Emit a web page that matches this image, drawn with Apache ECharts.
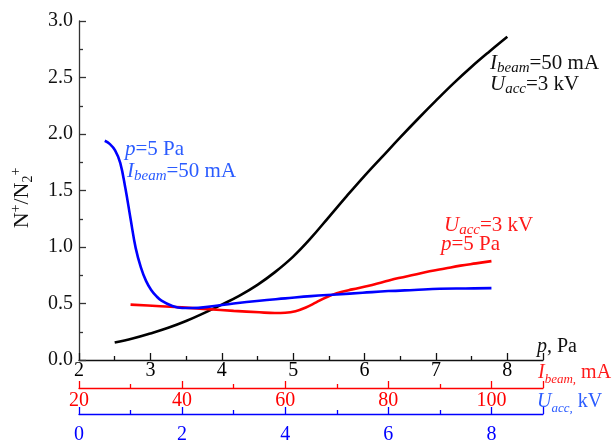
<!DOCTYPE html>
<html>
<head>
<meta charset="utf-8">
<script src="https://cdn.jsdelivr.net/npm/echarts@6/dist/echarts.min.js"></script>
<style>html,body{margin:0;padding:0;background:#fff}#c{width:616px;height:445px}</style>
</head>
<body>
<div id="c"></div>
<script>
// Black: ratio vs pressure p (Pa)
const blackP = [2.5,2.75,3.0,3.25,3.5,3.75,4.0,4.25,4.5,4.75,5.0,5.25,5.5,5.75,6.0,6.25,6.5,6.75,7.0,7.25,7.5,7.75,8.0];
const blackV = [0.155,0.19,0.235,0.285,0.345,0.415,0.49,0.57,0.665,0.78,0.915,1.08,1.265,1.45,1.63,1.80,1.97,2.135,2.295,2.45,2.595,2.73,2.86];
// Red: ratio vs beam current (mA)
const redI = [30,35,40,45,50,55,58,60,62,64,66,68,70,73,76,79,82,85,88,91,94,97,100];
const redV = [0.49,0.478,0.466,0.45,0.435,0.422,0.416,0.418,0.432,0.465,0.51,0.555,0.59,0.625,0.655,0.69,0.725,0.755,0.785,0.81,0.835,0.855,0.875];
// Blue: ratio vs accelerating voltage (kV)
const blueU = [0.5,0.6,0.7,0.8,0.9,1.0,1.1,1.2,1.3,1.4,1.5,1.6,1.8,2.0,2.2,2.5,3.0,3.5,4.0,4.5,5.0,5.5,6.0,6.5,7.0,7.5,8.0];
const blueV = [1.94,1.91,1.855,1.745,1.52,1.25,0.99,0.82,0.70,0.62,0.565,0.525,0.48,0.46,0.46,0.47,0.50,0.525,0.545,0.565,0.58,0.595,0.61,0.62,0.63,0.633,0.636];

const FONT = '"Liberation Serif","Times New Roman",serif';
const FS = 20;   // tick labels
const AF = 21;   // annotations
const SF = 15;   // subscripts
const BLUE = '#0000ff', RED = '#ff0000', BLACK = '#000000';
const BLUE_T = '#2b5cff', RED_T = '#ff1a1a';

const zip = (a, b) => a.map((x, i) => [x, b[i]]);

function xAx(min, max, interval, color, offset, margin, txtColor) {
  return {
    type: 'value', position: 'bottom', offset, min, max, interval,
    axisLine: { show: true, onZero: false, lineStyle: { color, width: 1.3 } },
    axisTick: { show: true, inside: true, length: 7, lineStyle: { color, width: 1.3 } },
    minorTick: { show: true, splitNumber: 2, length: 4, lineStyle: { color, width: 1.3 } },
    splitLine: { show: false },
    axisLabel: { color: txtColor, fontFamily: FONT, fontSize: FS, margin,
      formatter: v => (v > max - 0.001 && (max - min) % interval !== 0) ? '' : String(v) },
  };
}

function rich(color, main, sub) {
  return {
    n: { fontFamily: FONT, fontSize: main, fill: color, lineHeight: 26, verticalAlign: 'middle' },
    i: { fontFamily: FONT, fontSize: main, fontStyle: 'italic', fill: color, lineHeight: 26, verticalAlign: 'middle' },
    s: { fontFamily: FONT, fontSize: sub, fontStyle: 'italic', fill: color, lineHeight: 26, verticalAlign: 'bottom' },
    d: { fontFamily: FONT, fontSize: 14, fill: color, lineHeight: 26, verticalAlign: 'bottom' },
    sup: { fontFamily: FONT, fontSize: 14, fill: color, lineHeight: 26, verticalAlign: 'top' },
  };
}
function txt(x, y, text, color, rot, main, sub) {
  main = main || AF; sub = sub || SF;
  return {
    type: 'text', x, y, rotation: rot || 0,
    style: { text, rich: rich(color, main, sub), fill: color, font: main + 'px ' + FONT,
      textAlign: rot ? 'center' : 'left', textVerticalAlign: 'middle' },
    z: 100,
  };
}

const chart = echarts.init(document.getElementById('c'));
chart.setOption({
  animation: false,
  grid: { left: 79, right: 73, top: 21, bottom: 83.5, containLabel: false },
  xAxis: [
    xAx(2, 8.5, 1, '#111', 0, 1, BLACK),
    xAx(20, 110, 20, RED, 28, 3, RED),
    xAx(0, 9, 2, BLUE, 54, 11, BLUE),
  ],
  yAxis: {
    type: 'value', min: 0, max: 3, interval: 0.5,
    axisLine: { show: true, lineStyle: { color: '#333', width: 1.3 } },
    axisTick: { show: true, inside: true, length: 7, lineStyle: { color: '#333', width: 1.3 } },
    minorTick: { show: true, splitNumber: 2, length: 4, lineStyle: { color: '#333', width: 1.3 } },
    splitLine: { show: false },
    axisLabel: { color: '#111', fontFamily: FONT, fontSize: FS, margin: 6, formatter: v => v.toFixed(1) },
  },
  series: [
    { type: 'line', xAxisIndex: 0, data: zip(blackP, blackV), smooth: 0.4, showSymbol: false,
      lineStyle: { color: BLACK, width: 2.6 } },
    { type: 'line', xAxisIndex: 1, data: zip(redI, redV), smooth: 0.4, showSymbol: false,
      lineStyle: { color: RED, width: 2.6 } },
    { type: 'line', xAxisIndex: 2, data: zip(blueU, blueV), smooth: 0.4, showSymbol: false,
      lineStyle: { color: BLUE, width: 2.6 } },
  ],
  graphic: [
    txt(22, 198, '{n|N}{sup|+}{n|/N}{d|2}{sup|+}', '#111', Math.PI / 2, 22, 15),
    txt(125, 149, '{i|p}{n|=5 Pa}', BLUE_T),
    txt(127, 171, '{i|I}{s|beam}{n|=50 mA}', BLUE_T),
    txt(490, 63, '{i|I}{s|beam}{n|=50 mA}', '#111'),
    txt(490, 84, '{i|U}{s|acc}{n|=3 kV}', '#111'),
    txt(444, 225, '{i|U}{s|acc}{n|=3 kV}', RED_T),
    txt(441, 244, '{i|p}{n|=5 Pa}', RED_T),
    txt(537, 347, '{i|p}{n|, Pa}', '#111', 0, 20, 13),
    txt(538, 373, '{i|I}{s|beam,}{n| mA}', RED_T, 0, 20, 13),
    txt(537, 402, '{i|U}{s|acc,}{n| kV}', BLUE_T, 0, 20, 13),
  ],
});
</script>
</body>
</html>
